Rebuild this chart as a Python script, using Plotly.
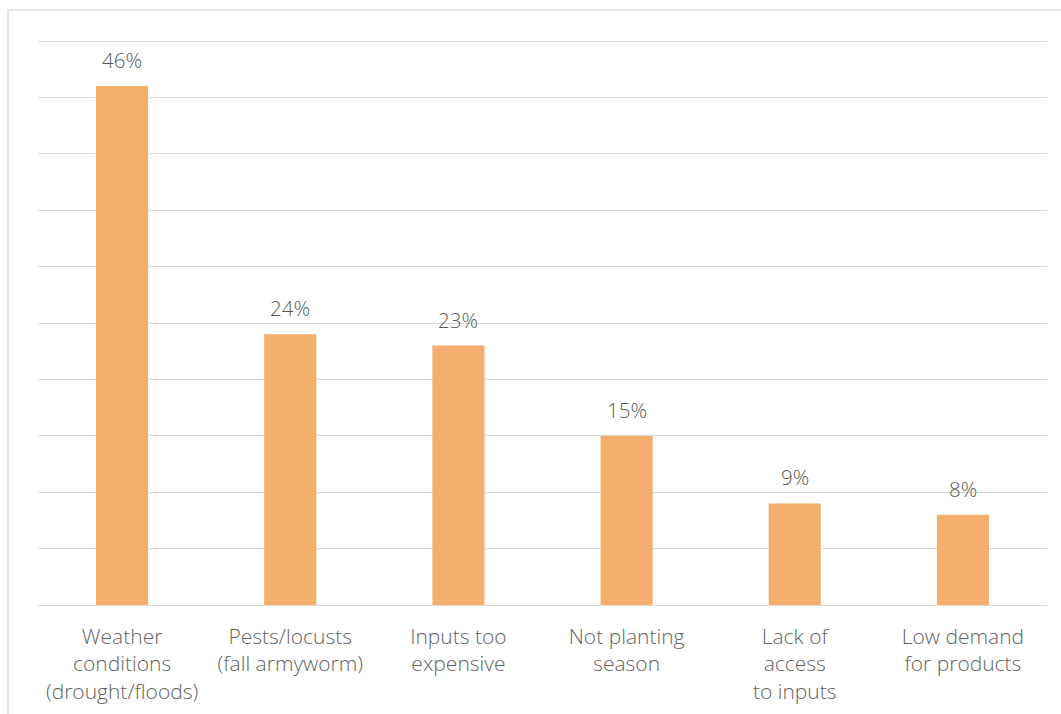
import plotly.graph_objects as go

# Reasons for reduced production (share of respondents, %)
categories = [
    "Weather<br>conditions<br>(drought/floods)",
    "Pests/locusts<br>(fall armyworm)",
    "Inputs too<br>expensive",
    "Not planting<br>season",
    "Lack of<br>access<br>to inputs",
    "Low demand<br>for products",
]
values = [46, 24, 23, 15, 9, 8]
tick_values = [0, 5, 10, 15, 20, 25, 30, 35, 40, 45, 50]

BAR_COLOR = "#F4AE6D"
GRID_COLOR = "#D9D9D9"
LABEL_COLOR = "#595959"
TICK_COLOR = "#636363"
FONT = "Open Sans"

fig = go.Figure(
    go.Bar(
        x=categories,
        y=values,
        marker=dict(color=BAR_COLOR, line=dict(width=0)),
        hoverinfo="skip",
    )
)

# value labels above each bar
for cat, val in zip(categories, values):
    fig.add_annotation(
        x=cat, y=val, text=f"{val}%", showarrow=False,
        yanchor="bottom", yshift=10,
        font=dict(family=FONT, size=20.5, color=LABEL_COLOR, weight=300),
    )

# light frame around the chart
fig.add_shape(
    type="rect", xref="paper", yref="paper",
    x0=-0.0297, x1=1.02, y0=-0.3, y1=1.0514,
    line=dict(color=GRID_COLOR, width=1.3), layer="below",
)

fig.update_layout(
    width=1061, height=714,
    margin=dict(l=38, r=14, t=39, b=109),
    paper_bgcolor="white", plot_bgcolor="white",
    bargap=0.69,
    showlegend=False,
    font=dict(family=FONT, size=21, color=TICK_COLOR),
    xaxis=dict(
        showgrid=False, showline=False, ticks="",
        automargin=False,
        ticklabelstandoff=17,
        tickfont=dict(family=FONT, size=21, color=TICK_COLOR, weight=300),
    ),
    yaxis=dict(
        range=[0, 50.177], tickvals=tick_values, showticklabels=False,
        automargin=False,
        showgrid=True, gridcolor=GRID_COLOR, gridwidth=1.3,
        zeroline=True, zerolinecolor=GRID_COLOR, zerolinewidth=1.3,
        showline=False, ticks="",
    ),
)

fig.write_html("out.html")
